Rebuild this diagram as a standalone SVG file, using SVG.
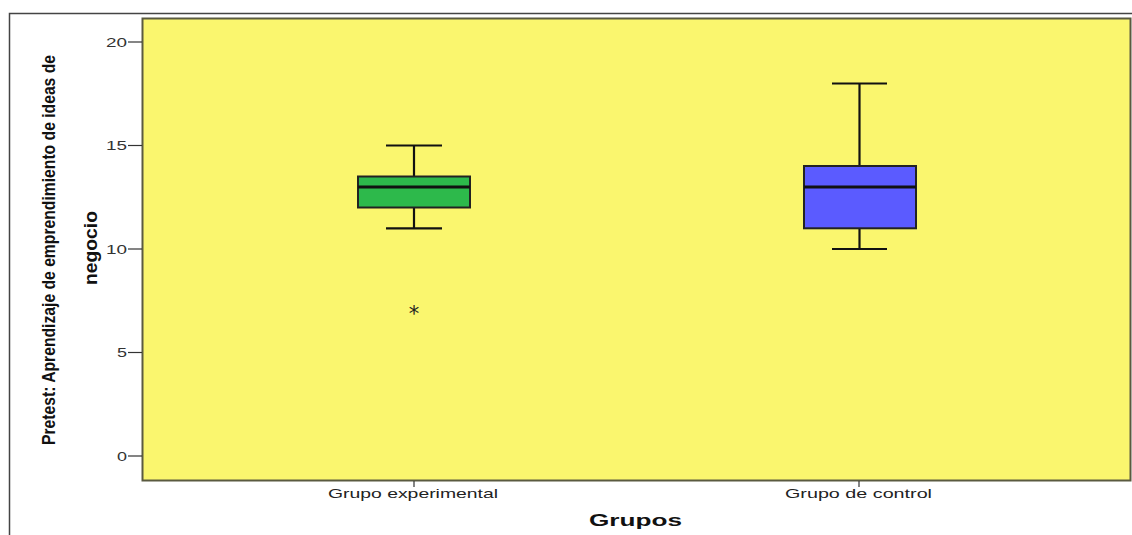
<svg xmlns="http://www.w3.org/2000/svg" width="1132" height="535" viewBox="0 0 1132 535">
<style>
.tick{stroke:#333;stroke-width:1.2}
.tl{font-family:"Liberation Sans",Arial,sans-serif;font-size:12.5px;fill:#333}
.xl{font-family:"Liberation Sans",Arial,sans-serif;font-size:13.5px;fill:#222}
.box{stroke:#222;stroke-width:2}
.wh{stroke:#111;stroke-width:2.2;fill:none}
.med{stroke:#111;stroke-width:3}
.yt{font-family:"Liberation Sans Narrow","Liberation Sans",Arial,sans-serif;font-weight:bold;font-size:18px;fill:#111}
</style>
<rect width="1132" height="535" fill="#fff"/>
<path d="M9.5 535 V13.5 H1132" fill="none" stroke="#444" stroke-width="1.5"/>
<g id="plot">
<rect x="142.5" y="18.5" width="988" height="462" fill="#FAF66E" stroke="#5a5a40" stroke-width="2"/>
</g>
<g id="yaxis">
<line class="tick" x1="128" y1="42" x2="142" y2="42"/>
<line class="tick" x1="128" y1="145.5" x2="142" y2="145.5"/>
<line class="tick" x1="128" y1="249" x2="142" y2="249"/>
<line class="tick" x1="128" y1="352.5" x2="142" y2="352.5"/>
<line class="tick" x1="128" y1="456" x2="142" y2="456"/>
<text class="tl" x="106" y="46.5" textLength="21" lengthAdjust="spacingAndGlyphs">20</text>
<text class="tl" x="106" y="150" textLength="21" lengthAdjust="spacingAndGlyphs">15</text>
<text class="tl" x="106" y="253.5" textLength="21" lengthAdjust="spacingAndGlyphs">10</text>
<text class="tl" x="117" y="357" textLength="10" lengthAdjust="spacingAndGlyphs">5</text>
<text class="tl" x="117" y="460.5" textLength="10" lengthAdjust="spacingAndGlyphs">0</text>
<text class="yt" transform="translate(55,250) rotate(-90)" text-anchor="middle" textLength="390" lengthAdjust="spacingAndGlyphs">Pretest: Aprendizaje de emprendimiento de ideas de</text>
<text class="yt" transform="translate(97,248) rotate(-90)" text-anchor="middle" textLength="74" lengthAdjust="spacingAndGlyphs">negocio</text>
</g>
<g id="xaxis">
<line class="tick" x1="414" y1="481" x2="414" y2="487"/>
<line class="tick" x1="859" y1="481" x2="859" y2="487"/>
<text class="xl" x="328" y="498" textLength="170" lengthAdjust="spacingAndGlyphs">Grupo experimental</text>
<text class="xl" x="785" y="498" textLength="147" lengthAdjust="spacingAndGlyphs">Grupo de control</text>
<text x="589" y="526" font-family="'Liberation Sans',Arial,sans-serif" font-weight="bold" font-size="17" fill="#111" textLength="93" lengthAdjust="spacingAndGlyphs">Grupos</text>
</g>
<g id="grupo-experimental">
<line class="wh" x1="414" y1="145.5" x2="414" y2="176.5"/>
<line class="wh" x1="414" y1="207.5" x2="414" y2="228.3"/>
<line class="wh" x1="386" y1="145.5" x2="442" y2="145.5"/>
<line class="wh" x1="386" y1="228.3" x2="442" y2="228.3"/>
<rect class="box" x="358" y="176.5" width="112" height="31" fill="#2DB94B"/>
<line class="med" x1="358" y1="187" x2="470" y2="187"/>
<text x="414" y="321" text-anchor="middle" font-family="'DejaVu Sans',sans-serif" font-size="21" fill="#222">*</text>
</g>
<g id="grupo-de-control">
<line class="wh" x1="859.5" y1="83.5" x2="859.5" y2="166"/>
<line class="wh" x1="859.5" y1="228.3" x2="859.5" y2="249"/>
<line class="wh" x1="832" y1="83.5" x2="887" y2="83.5"/>
<line class="wh" x1="832" y1="249" x2="887" y2="249"/>
<rect class="box" x="804" y="166" width="112" height="62.3" fill="#5B5BFF"/>
<line class="med" x1="804" y1="187" x2="916" y2="187"/>
</g>
</svg>
